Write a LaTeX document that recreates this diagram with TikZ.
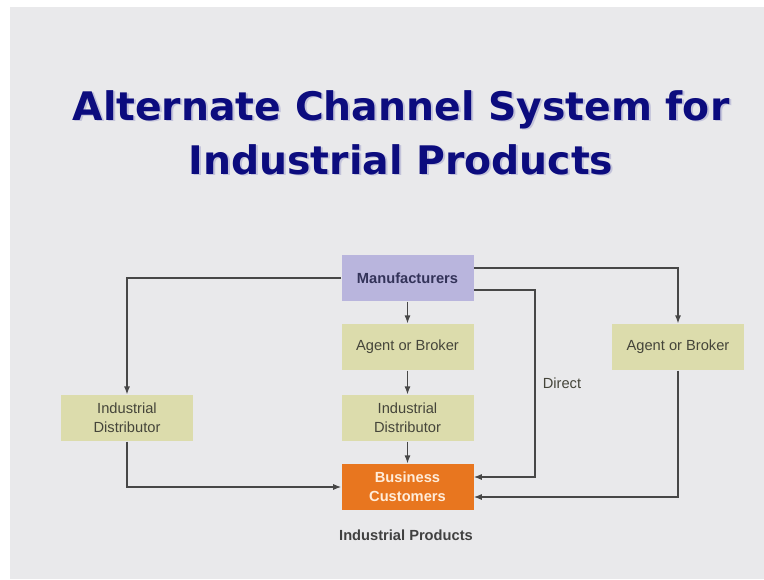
\documentclass[tikz,border=0pt]{standalone}
\usepackage{fontspec}
\setmainfont{Liberation Sans}
\newfontfamily\titlefont{DejaVu Sans}
\usetikzlibrary{%
  arrows.meta,%
  calc%
}
\definecolor{slidebg}{HTML}{E9E9EB}
\definecolor{titleblue}{HTML}{0C0C7E}
\definecolor{manfill}{HTML}{B9B5DD}
\definecolor{midfill}{HTML}{DCDCAC}
\definecolor{busfill}{HTML}{E8761F}
\definecolor{boxtext}{HTML}{45453A}
\definecolor{linegray}{HTML}{474747}
\tikzset{>={Latex[length=6pt,width=4.5pt]}, box/.style = {rectangle, minimum width=99pt, minimum height=35pt,
    inner sep=0pt, align=center, font=\fontsize{11}{14.5}\selectfont, text=boxtext},
  flow/.style = {->, draw=linegray, line width=0.9pt}}

\begin{document}
\begin{tikzpicture}[x=0.75pt,y=-0.75pt]
        \useasboundingbox (0,0) rectangle (764,579);
        \fill[white] (0,0) rectangle (764,579);
        \fill[slidebg] (10,7) rectangle (764,579);
        % title
        \node[titleblue!40, opacity=0.5, font=\titlefont\bfseries\fontsize{29.5}{40.5}\selectfont,
          align=center, anchor=base] (shadow) at (403,175.5)
          {Alternate Channel System for\\Industrial Products};
        \node[titleblue, font=\titlefont\bfseries\fontsize{29.5}{40.5}\selectfont,
          align=center, anchor=base] (title) at (401,174)
          {Alternate Channel System for\\Industrial Products};
        % boxes
        \node[box, fill=manfill, text=black!75!blue!60!gray, font=\bfseries\fontsize{11}{14}\selectfont]
          (man) at (407.5,278) {Manufacturers};
        \node[box, fill=midfill] (agm) at (407.5,347) {Agent or Broker};
        \node[box, fill=midfill] (idm) at (407.5,418) {Industrial\\Distributor};
        \node[box, fill=busfill, text=orange!15, font=\bfseries\fontsize{11}{14.5}\selectfont]
          (bus) at (407.5,487) {Business\\Customers};
        \node[box, fill=midfill] (idl) at (127,418) {Industrial\\Distributor};
        \node[box, fill=midfill] (agr) at (678,347) {Agent or Broker};
        \coordinate (dir) at (535,0);
        % connectors
        \draw[flow] (man) -- (agm);
        \draw[flow] (agm) -- (idm);
        \draw[flow] (idm) -- (bus);
        \draw[flow] (man.west) -| (idl.north);
        \draw[flow] ([yshift=7.5pt]man.east) -| (agr.north);
        \draw[flow] ([yshift=-9pt]man.east) -- ([yshift=-9pt]man.east -| dir)
          -- ([yshift=7.5pt]bus.east -| dir) -- ([yshift=7.5pt]bus.east);
        \draw[flow] (agr.south) |- ([yshift=-7.5pt]bus.east);
        \draw[flow] (idl.south) |- (bus.west);
        % labels
        \node[text=boxtext, font=\fontsize{11}{13}\selectfont] (direct) at (562,383) {Direct};
        \node[text=black!75, font=\bfseries\fontsize{11}{13}\selectfont] (caption) at (406,535)
          {Industrial Products};
      \end{tikzpicture}
\end{document}
